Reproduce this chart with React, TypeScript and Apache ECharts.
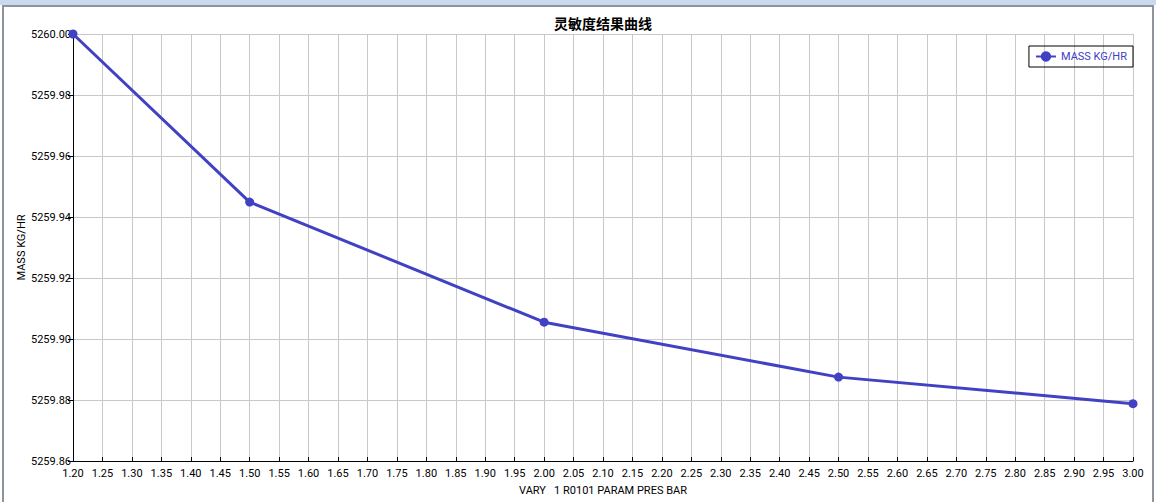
import React, { useEffect, useRef } from "react";
import * as echarts from "echarts";

const titleText = "灵敏度结果曲线";
const seriesName = "MASS KG/HR";
const xAxisName = "VARY   1 R0101 PARAM PRES BAR";
const yAxisName = "MASS KG/HR";
const presValues = [1.2, 1.5, 2.0, 2.5, 3.0];
const massValues = [5260.0, 5259.9449, 5259.9055, 5259.8875, 5259.8788];

const LINE_COLOR = "#4141c4";
const FONT = "Roboto, 'Liberation Sans', sans-serif";

export default function App() {
  const ref = useRef<HTMLDivElement>(null);
  useEffect(() => {
    if (!ref.current) return;
    const chart = echarts.init(ref.current, undefined, { renderer: "svg" });
    const data = presValues.map((x, i) => [x, massValues[i]]);
    chart.setOption({
      animation: false,
      backgroundColor: "#ffffff",
      textStyle: { fontFamily: FONT },
      title: {
        text: titleText,
        left: 554,
        top: 16,
        padding: 0,
        textStyle: {
          fontFamily: "'Noto Sans CJK SC', sans-serif",
          fontSize: 14,
          fontWeight: "bold",
          color: "#000000",
        },
      },
      legend: {
        data: [seriesName],
        right: 23,
        top: 46,
        orient: "vertical",
        borderColor: "#000000",
        borderWidth: 1,
        borderRadius: 0,
        padding: [5, 6, 5, 6],
        itemWidth: 20,
        itemHeight: 13,
        itemGap: 5,
        textStyle: { color: LINE_COLOR, fontSize: 11, fontFamily: FONT },
      },
      grid: { left: 73, right: 23, top: 34, bottom: 41, containLabel: false },
      xAxis: {
        type: "value",
        min: 1.2,
        max: 3.0,
        interval: 0.05,
        name: xAxisName,
        nameLocation: "middle",
        nameGap: 24,
        nameMoveOverlap: false,
        nameTextStyle: { color: "#000000", fontSize: 11, fontFamily: FONT },
        axisLine: { show: true, lineStyle: { color: "#000000", width: 1 } },
        axisTick: { show: true, inside: true, length: 4, lineStyle: { color: "#000000" } },
        axisLabel: {
          color: "#000000",
          fontSize: 11,
          margin: 7,
          formatter: (v: number) => v.toFixed(2),
        },
        splitLine: { show: true, lineStyle: { color: "#c8c8c8", width: 1 } },
      },
      yAxis: {
        type: "value",
        min: 5259.86,
        max: 5260.0,
        interval: 0.02,
        name: yAxisName,
        nameLocation: "middle",
        nameGap: 46,
        nameMoveOverlap: false,
        nameRotate: 90,
        nameTextStyle: { color: "#000000", fontSize: 11, fontFamily: FONT },
        axisLine: { show: true, lineStyle: { color: "#000000", width: 1 } },
        axisTick: { show: true, inside: false, length: 5, lineStyle: { color: "#000000" } },
        axisLabel: {
          color: "#000000",
          fontSize: 11,
          margin: 2,
          formatter: (v: number) => v.toFixed(2),
        },
        splitLine: { show: true, lineStyle: { color: "#c8c8c8", width: 1 } },
      },
      graphic: [
        { type: "rect", shape: { x: 0, y: 0, width: 1156, height: 5 }, style: { fill: "#c9d9ee" }, silent: true },
        { type: "rect", shape: { x: 2, y: 5, width: 1152, height: 2 }, style: { fill: "#8d949e" }, silent: true },
        { type: "rect", shape: { x: 2, y: 5, width: 2, height: 497 }, style: { fill: "#8d949e" }, silent: true },
        { type: "rect", shape: { x: 1152, y: 5, width: 2, height: 497 }, style: { fill: "#8d949e" }, silent: true },
      ],
      series: [
        {
          name: seriesName,
          type: "line",
          data,
          symbol: "circle",
          symbolSize: 9,
          showSymbol: true,
          lineStyle: { color: LINE_COLOR, width: 3 },
          itemStyle: { color: LINE_COLOR },
        },
      ],
    });
    return () => chart.dispose();
  }, []);
  return (
    <div
      ref={ref}
      style={{ position: "fixed", left: 0, top: 0, width: 1156, height: 502 }}
    />
  );
}
